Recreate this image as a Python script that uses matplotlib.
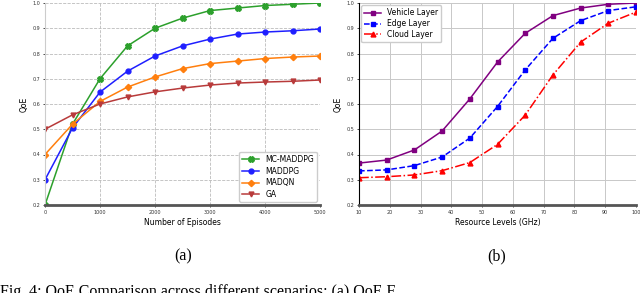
import matplotlib
matplotlib.use("Agg")
import matplotlib.pyplot as plt
import numpy as np

# ---- data (a) ----
episodes = [0, 500, 1000, 1500, 2000, 2500, 3000, 3500, 4000, 4500, 5000]
mc_maddpg = [0.20, 0.52, 0.70, 0.83, 0.90, 0.94, 0.97, 0.98, 0.99, 0.995, 1.00]
maddpg = [0.30, 0.505, 0.647, 0.73, 0.79, 0.83, 0.857, 0.877, 0.885, 0.89, 0.897]
madqn = [0.40, 0.52, 0.61, 0.667, 0.707, 0.74, 0.76, 0.77, 0.78, 0.786, 0.79]
ga = [0.50, 0.557, 0.60, 0.628, 0.648, 0.663, 0.675, 0.683, 0.687, 0.69, 0.695]

# ---- data (b) ----
resource = [10, 19, 28, 37, 46, 55, 64, 73, 82, 91, 100]
vehicle = [0.366, 0.378, 0.418, 0.493, 0.62, 0.766, 0.88, 0.95, 0.98, 0.995, 1.0]
edge = [0.335, 0.339, 0.356, 0.39, 0.465, 0.59, 0.735, 0.86, 0.93, 0.97, 0.985]
cloud = [0.308, 0.312, 0.319, 0.336, 0.368, 0.44, 0.556, 0.715, 0.845, 0.92, 0.964]

yticks = [0.2, 0.3, 0.4, 0.5, 0.6, 0.7, 0.8, 0.9, 1.0]
xticks_a = [0, 1000, 2000, 3000, 4000, 5000]
xticks_b = [10, 20, 30, 40, 50, 60, 70, 80, 90, 100]

fig = plt.figure(figsize=(6.4, 2.93), dpi=100)
W, H = 640, 293

def axes_px(l, r, t, b):
    return fig.add_axes([l / W, 1 - b / H, (r - l) / W, (b - t) / H])

tick_fs = 3.5
lab_fs = 5.5

# ---- (a) ----
ax1 = axes_px(45, 320, 3, 205)
ax1.plot(episodes, mc_maddpg, color='#2ca02c', marker='X', ms=4, lw=1.1, label='MC-MADDPG')
ax1.plot(episodes, maddpg, color='#1f1fff', marker='o', ms=3.5, lw=1.1, label='MADDPG')
ax1.plot(episodes, madqn, color='#ff7f0e', marker='D', ms=3.2, lw=1.1, label='MADQN')
ax1.plot(episodes, ga, color='#b83a3a', marker='v', ms=3.5, lw=1.1, label='GA')
ax1.set_xlim(0, 5000)
ax1.set_ylim(0.2, 1.0)
ax1.set_xticks(xticks_a)
ax1.set_yticks(yticks)
ax1.set_yticklabels([f"{v:.1f}" for v in yticks])
ax1.grid(True, linestyle='--', color='#bbbbbb', lw=0.6)
ax1.tick_params(labelsize=tick_fs, length=1.5, width=0.5, pad=2, labelcolor='#333333')
ax1.set_xlabel('Number of Episodes', fontsize=lab_fs, labelpad=2)
ax1.set_ylabel('QoE', fontsize=lab_fs, labelpad=3)
for s in ['top', 'right']:
    ax1.spines[s].set_visible(False)
ax1.spines['left'].set_color('#cccccc')
ax1.spines['left'].set_linewidth(0.8)
ax1.spines['bottom'].set_color('#555555')
ax1.spines['bottom'].set_linewidth(2)
ax1.legend(loc='lower right', fontsize=5.5, frameon=True, framealpha=1,
           edgecolor='#cccccc', borderpad=0.4, handlelength=2.2, labelspacing=0.35,
           borderaxespad=0.4)

# ---- (b) ----
ax2 = axes_px(359, 636, 3, 205)
ax2.plot(resource, vehicle, color='purple', linestyle='-', marker='s', ms=2.5, lw=1.1, label='Vehicle Layer')
ax2.plot(resource, edge, color='blue', linestyle='--', marker='s', ms=3, lw=1.1, label='Edge Layer')
ax2.plot(resource, cloud, color='red', linestyle='-.', marker='^', ms=3.5, lw=1.1, label='Cloud Layer')
ax2.set_xlim(10, 100)
ax2.set_ylim(0.2, 1.0)
ax2.set_xticks(xticks_b)
ax2.set_yticks(yticks)
ax2.set_yticklabels([f"{v:.1f}" for v in yticks])
ax2.grid(True, linestyle='-', color='#c8c8c8', lw=0.7)
ax2.tick_params(labelsize=tick_fs, length=1.5, width=0.5, pad=2, labelcolor='#333333')
ax2.set_xlabel('Resource Levels (GHz)', fontsize=lab_fs, labelpad=2)
ax2.set_ylabel('QoE', fontsize=lab_fs, labelpad=3)
for s in ['top', 'right']:
    ax2.spines[s].set_visible(False)
ax2.spines['left'].set_color('black')
ax2.spines['left'].set_linewidth(0.8)
ax2.spines['bottom'].set_color('#555555')
ax2.spines['bottom'].set_linewidth(2)
ax2.legend(loc='upper left', fontsize=5.5, frameon=True, framealpha=1,
           edgecolor='#cccccc', borderpad=0.4, handlelength=2.2, labelspacing=0.25,
           borderaxespad=0.3)

# ---- captions ----
fig.text(183 / W, 1 - 256 / H, '(a)', fontsize=11.5, family='Liberation Serif',
         ha='center', va='center')
fig.text(497 / W, 1 - 256 / H, '(b)', fontsize=11.5, family='Liberation Serif',
         ha='center', va='center')
fig.text(0 / W, 1 - 296 / H, 'Fig. 4: QoE Comparison across different scenarios: (a) QoE F',
         fontsize=11.5, family='Liberation Serif', ha='left', va='baseline')

fig.savefig('out.png', dpi=100)
